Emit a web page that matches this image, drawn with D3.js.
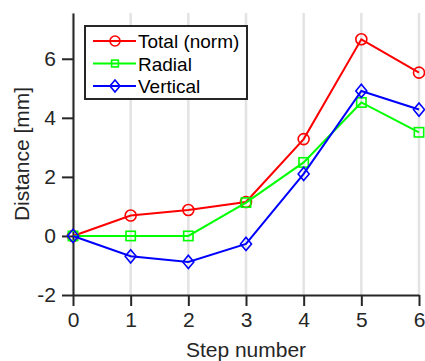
<!DOCTYPE html>
<html>
<head>
<meta charset="utf-8">
<script src="https://cdn.jsdelivr.net/npm/d3@7"></script>
<style>
  body { margin: 0; background: #fff; }
  svg { display: block; font-family: "Liberation Sans", Arial, sans-serif; }
</style>
</head>
<body>
<svg id="chart" width="425" height="361"></svg>
<script>
var steps = [0, 1, 2, 3, 4, 5, 6];
var total = [0, 0.69, 0.88, 1.15, 3.28, 6.66, 5.53];
var radial = [0, 0, 0, 1.13, 2.49, 4.52, 3.51];
var vertical = [0, -0.69, -0.88, -0.27, 2.1, 4.91, 4.28];
var yTicks = [-2, 0, 2, 4, 6];

var series = [
  { name: "Total (norm)", values: total, color: "#ff0000", marker: "circle" },
  { name: "Radial", values: radial, color: "#00ff00", marker: "square" },
  { name: "Vertical", values: vertical, color: "#0000ff", marker: "diamond" }
];

var svg = d3.select("#chart");
var padding = { top: 13, right: 6, bottom: 66, left: 73 };
var width = +svg.attr("width");
var height = +svg.attr("height");
var axisColor = "#262626";

var xScale = d3.scaleLinear()
               .domain([0, 6])
               .range([padding.left, width - padding.right]);

var yScale = d3.scaleLinear()
               .domain([-2, 7.55])
               .range([height - padding.bottom, padding.top]);

// vertical grid lines
svg.append("g")
  .selectAll("line")
  .data(steps)
  .enter()
  .append("line")
    .attr("x1", d => xScale(d))
    .attr("x2", d => xScale(d))
    .attr("y1", yScale.range()[1])
    .attr("y2", yScale.range()[0])
    .attr("stroke", "#e3e3e3")
    .attr("stroke-width", 2.5);

var xAxis = d3.axisBottom(xScale)
              .tickValues(steps)
              .tickFormat(d => String(d))
              .tickSize(11)
              .tickSizeOuter(0)
              .tickPadding(6);

var yAxis = d3.axisLeft(yScale)
              .tickValues(yTicks)
              .tickFormat(d => String(d))
              .tickSize(11)
              .tickSizeOuter(0)
              .tickPadding(6);

function styleAxis(g) {
  g.select(".domain").attr("stroke", axisColor).attr("stroke-width", 2);
  g.selectAll(".tick line").attr("stroke", axisColor).attr("stroke-width", 2);
  g.selectAll(".tick text")
    .attr("fill", axisColor)
    .style("font-size", "21px")
    .style("font-family", "'Liberation Sans', Arial, sans-serif");
}

svg.append("g")
    .attr("transform", "translate(0," + (height - padding.bottom) + ")")
    .call(xAxis)
    .call(styleAxis);

svg.append("g")
    .attr("transform", "translate(" + padding.left + ",0)")
    .call(yAxis)
    .call(styleAxis);

svg.append("text")
    .attr("x", (xScale.range()[0] + xScale.range()[1]) / 2)
    .attr("y", 357)
    .attr("text-anchor", "middle")
    .attr("fill", axisColor)
    .style("font-size", "21px")
    .text("Step number");

svg.append("text")
    .attr("transform", "rotate(-90)")
    .attr("x", -(yScale.range()[0] + yScale.range()[1]) / 2)
    .attr("y", 29)
    .attr("text-anchor", "middle")
    .attr("fill", axisColor)
    .style("font-size", "21px")
    .text("Distance [mm]");

function drawMarker(g, type, x, y, size, color) {
  if (type === "circle") {
    g.append("circle")
      .attr("cx", x).attr("cy", y).attr("r", size)
      .attr("fill", "none").attr("stroke", color).attr("stroke-width", 1.6);
  } else if (type === "square") {
    g.append("rect")
      .attr("x", x - size * 0.85).attr("y", y - size * 0.85)
      .attr("width", size * 1.7).attr("height", size * 1.7)
      .attr("fill", "none").attr("stroke", color).attr("stroke-width", 1.6);
  } else {
    var w = size, h = size * 1.2;
    g.append("path")
      .attr("d", "M" + x + "," + (y - h) + "L" + (x + w) + "," + y +
                 "L" + x + "," + (y + h) + "L" + (x - w) + "," + y + "Z")
      .attr("fill", "none").attr("stroke", color).attr("stroke-width", 1.6);
  }
}

var line = d3.line()
             .x((d, i) => xScale(steps[i]))
             .y(d => yScale(d));

series.forEach(function(s) {
  var g = svg.append("g");
  g.append("path")
    .datum(s.values)
    .attr("d", line)
    .attr("fill", "none")
    .attr("stroke", s.color)
    .attr("stroke-width", 2);
  s.values.forEach(function(v, i) {
    drawMarker(g, s.marker, xScale(steps[i]), yScale(v), 5.5, s.color);
  });
});

// legend
var legend = svg.append("g");
legend.append("rect")
    .attr("x", 85).attr("y", 26)
    .attr("width", 162).attr("height", 73)
    .attr("fill", "#fff")
    .attr("stroke", axisColor)
    .attr("stroke-width", 2);

series.forEach(function(s, i) {
  var y = 41 + i * 22.5;
  legend.append("line")
    .attr("x1", 93).attr("x2", 136)
    .attr("y1", y).attr("y2", y)
    .attr("stroke", s.color)
    .attr("stroke-width", 2);
  drawMarker(legend, s.marker, 115, y, s.marker === "square" ? 4 : 5, s.color);
  legend.append("text")
    .attr("x", 138)
    .attr("y", y + 7)
    .attr("fill", "#000")
    .style("font-size", "19px")
    .text(s.name);
});
</script>
</body>
</html>
